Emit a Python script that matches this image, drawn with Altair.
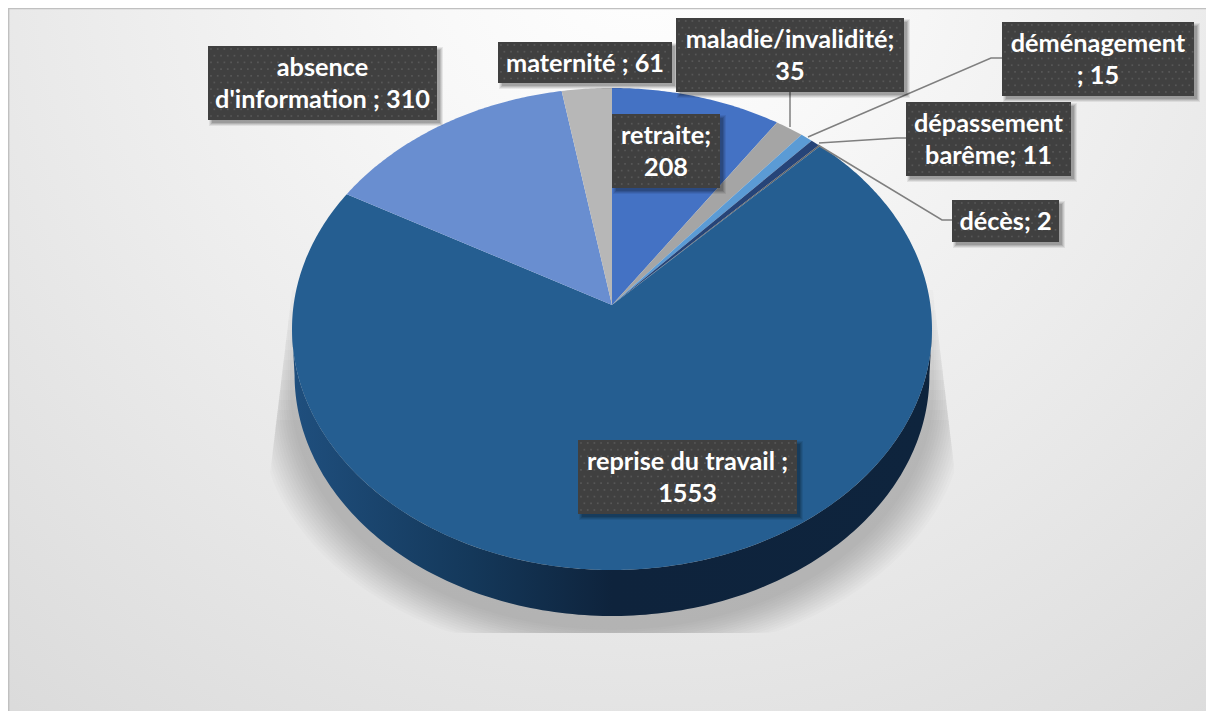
import math
import numpy as np
import pandas as pd
import altair as alt

categories = ["retraite", "maladie/invalidité", "déménagement", "dépassement barème",
              "décès", "reprise du travail", "absence d'information", "maternité"]
values = [208, 35, 15, 11, 2, 1553, 310, 61]
colors = ["#4472c4", "#a5a5a5", "#5b9bd5", "#264478", "#636363", "#255e91", "#698ed0", "#b7b7b7"]
labels = ["retraite;\n208", "maladie/invalidité;\n35", "déménagement\n; 15", "dépassement\nbarême; 11",
          "décès; 2", "reprise du travail ;\n1553", "absence\nd'information ; 310", "maternité ; 61"]

# perspective-tilted disc
CX, CY, A, B, K = 612.0, 305.0, 238.6, 318.4, 0.0996
DEPTH = 46.0
FONT = "Lato"
X0, Y0, W, H = 8, 8, 1198, 703


def project(theta, dy=0.0, sx=1.0):
    X, Y = math.sin(theta), math.cos(theta)
    d = 1 + K * Y
    return [CX + sx * B * X / d, CY + dy - A * Y / d]


def feature(points, **props):
    ring = [[float(p[0]), float(p[1])] for p in points]
    ring.append(ring[0])
    return {"type": "Feature", "geometry": {"type": "Polygon", "coordinates": [ring]}, "properties": props}


PROJ = dict(type="identity", scale=1, translate=[-X0, -Y0])

# slices, from the values
total = sum(values)
slices = []
acc = 0.0
for name, v in zip(categories, values):
    a0 = acc / total * 2 * math.pi
    acc += v
    a1 = acc / total * 2 * math.pi
    n = max(2, int((a1 - a0) / 0.01))
    pts = [[CX, CY]] + [project(a0 + (a1 - a0) * i / n) for i in range(n + 1)]
    slices.append(feature(pts, name=name))

slice_layer = (
    alt.Chart(alt.Data(values=slices))
    .mark_geoshape(strokeWidth=0)
    .encode(fill=alt.Fill("properties.name:N", scale=alt.Scale(domain=categories, range=colors), legend=None))
    .project(**PROJ)
)

# front wall of the disc
front = [math.radians(a) for a in np.linspace(95.7, 264.3, 170)]
wall_pts = [project(t) for t in front] + [project(t, DEPTH, 0.992) for t in reversed(front)]
wall_layer = (
    alt.Chart(alt.Data(values=[feature(wall_pts, name="wall")]))
    .mark_geoshape(
        strokeWidth=0,
        fill=alt.LinearGradient(
            gradient="linear", x1=1, x2=0, y1=0, y2=0,
            stops=[
                alt.GradientStop(offset=0, color="#0e243d"),
                alt.GradientStop(offset=0.5, color="#0e233c"),
                alt.GradientStop(offset=0.72, color="#14385a"),
                alt.GradientStop(offset=1, color="#1f4f7e"),
            ],
        ),
    )
    .project(**PROJ)
)

# soft floor shadow: stacked translucent outlines clipped to its box
SH_B = 633.0


def wedge_left(y):
    return 293 - (y - 282) * 16 / 133


def wedge_right(y):
    return 932 + (y - 282) * 16 / 133


shadow_feats = []
steps = 14
for i in range(steps):
    t = i / (steps - 1)
    rx = 322 + 30 * t
    drop = 60 + 26 * t
    top = 290 + 10 * i
    pts = []
    for y in np.linspace(top, 330 + drop, 20):
        pts.append([max(CX - rx, wedge_left(y)), y])
    for a in np.linspace(-90, 90, 120):
        th = math.radians(a)
        x = CX + rx * math.sin(th)
        y = 329 + drop + (241 + 4 * t) * math.cos(th)
        x = max(x, wedge_left(y)) if x < CX else min(x, wedge_right(y))
        pts.append([x, min(y, SH_B)])
    for y in np.linspace(330 + drop, top, 20):
        pts.append([min(CX + rx, wedge_right(y)), y])
    shadow_feats.append(feature(pts, name=f"s{i}"))

shadow_layer = (
    alt.Chart(alt.Data(values=shadow_feats))
    .mark_geoshape(strokeWidth=0, fill="#000000", fillOpacity=0.015)
    .project(**PROJ)
)

xs = alt.Scale(domain=[X0, X0 + W], range=[0, W])
ys = alt.Scale(domain=[Y0, Y0 + H], range=[0, H])
xe = alt.X("x:Q", scale=xs, axis=None)
ye = alt.Y("y:Q", scale=ys, axis=None)

# background and frame
bg = alt.Chart(pd.DataFrame({"x": [X0], "x2": [X0 + W], "y": [Y0], "y2": [Y0 + H]})).mark_rect(
    fill=alt.RadialGradient(
        gradient="radial", x1=0.53, y1=0.15, x2=0.53, y2=0.15, r1=0, r2=1,
        stops=[
            alt.GradientStop(offset=0, color="#ffffff"),
            alt.GradientStop(offset=0.2, color="#f8f8f8"),
            alt.GradientStop(offset=0.55, color="#e8e8e8"),
            alt.GradientStop(offset=1, color="#d3d3d3"),
        ],
    )
).encode(x=xe, x2="x2:Q", y=ye, y2="y2:Q")

frame_df = pd.DataFrame({"x": [X0, X0], "x2": [X0 + 1.4, X0 + W], "y": [Y0, Y0], "y2": [Y0 + H, Y0 + 1.3]})
frame = alt.Chart(frame_df).mark_rect(fill="#c0c0c0").encode(x=xe, x2="x2:Q", y=ye, y2="y2:Q")

# leader lines
leaders = pd.DataFrame(
    [
        ("maladie", 0, 790, 127), ("maladie", 1, 790, 92),
        ("dem", 0, 808, 137), ("dem", 1, 991, 58), ("dem", 2, 1003, 58),
        ("dep", 0, 819, 143), ("dep", 1, 897, 138), ("dep", 2, 906, 138),
        ("dec", 0, 818, 145), ("dec", 1, 942, 220), ("dec", 2, 952, 220),
    ],
    columns=["id", "o", "x", "y"],
)
leader_layer = alt.Chart(leaders).mark_line(color="#7f7f7f", strokeWidth=1.5).encode(
    x=xe, y=ye, detail="id:N", order="o:Q"
)

# label boxes
boxes = pd.DataFrame(
    {
        "text": labels,
        "x": [612, 676, 1002, 906, 952, 578, 208, 498],
        "x2": [720, 904, 1194, 1071, 1059, 797, 437, 672],
        "y": [114, 18, 22, 102, 200, 440, 46, 42],
        "y2": [188, 92, 96, 176, 242, 514, 120, 83],
    }
)
boxes["cx"] = (boxes.x + boxes.x2) / 2
boxes["cy"] = (boxes.y + boxes.y2) / 2 - boxes.text.str.count("\n") * 16 + 1

shadow_rects = []
for grow, op in [(3, 0.07), (2, 0.09), (1, 0.11), (0, 0.13)]:
    d = boxes.copy()
    d["x"] += 3 - grow + 1
    d["x2"] += 3 + grow
    d["y"] += 3 - grow + 1
    d["y2"] += 3 + grow
    shadow_rects.append(
        alt.Chart(d).mark_rect(fill="#000000", fillOpacity=op).encode(x=xe, x2="x2:Q", y=ye, y2="y2:Q")
    )

box_layer = alt.Chart(boxes).mark_rect(fill="#404040").encode(x=xe, x2="x2:Q", y=ye, y2="y2:Q")

dots = []
for _, b in boxes.iterrows():
    row = 0
    for y in np.arange(b.y + 3, b.y2 - 1, 6.7):
        off = 0 if row % 2 == 0 else 3.35
        for x in np.arange(b.x + 3 + off, b.x2 - 1, 6.7):
            dots.append({"x": float(x), "y": float(y)})
        row += 1
dot_layer = alt.Chart(pd.DataFrame(dots)).mark_square(size=3, filled=True, color="#5a5a5a", opacity=0.9).encode(x=xe, y=ye)

text_layer = alt.Chart(boxes).mark_text(
    font=FONT, fontWeight="bold", fontSize=25.3, color="#ffffff", lineBreak="\n", lineHeight=32, baseline="middle"
).encode(x=alt.X("cx:Q", scale=xs, axis=None), y=alt.Y("cy:Q", scale=ys, axis=None), text="text:N")

chart = (
    alt.layer(bg, frame, shadow_layer, wall_layer, slice_layer, leader_layer, *shadow_rects, box_layer, dot_layer, text_layer)
    .resolve_scale(x="shared", y="shared")
    .properties(width=W, height=H, padding=0, autosize=alt.AutoSizeParams(type="none"), background="#ffffff")
    .configure_view(stroke=None)
)

chart.save("out.html", embed_options={"renderer": "svg", "actions": False})
